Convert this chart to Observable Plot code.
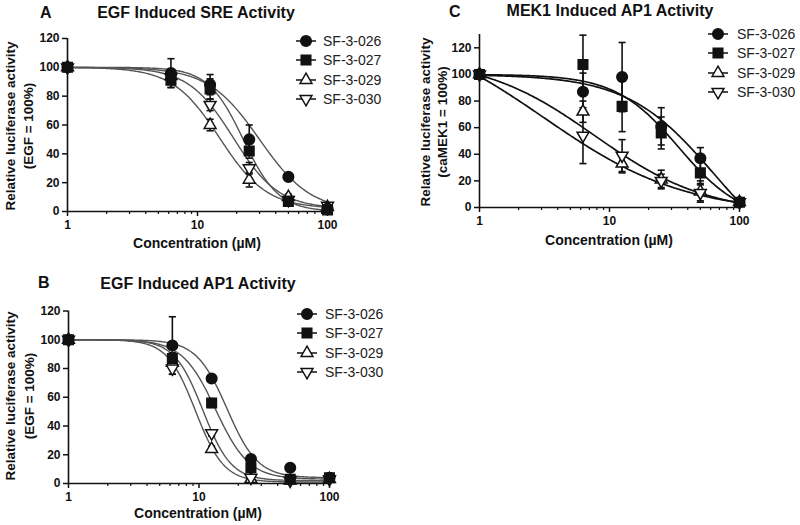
<!DOCTYPE html>
<html><head><meta charset="utf-8">
<script src="https://cdn.jsdelivr.net/npm/d3@7"></script>
<script src="https://cdn.jsdelivr.net/npm/@observablehq/plot@0.6"></script>
<style>
body{margin:0;background:#fff;}
#fig{position:relative;width:800px;height:525px;overflow:hidden;}
#fig svg{position:absolute;overflow:visible;}
</style></head><body><div id="fig"></div>
<script>
const FONT = 'Arial, "Liberation Sans", Helvetica, sans-serif';
const series = ["SF-3-026", "SF-3-027", "SF-3-029", "SF-3-030"];
const conc = [1, 6.25, 12.5, 25, 50, 100];
const xMajorTicks = [1, 10, 100];
const xMinorTicks = [2, 3, 4, 5, 6, 7, 8, 9, 20, 30, 40, 50, 60, 70, 80, 90];
const yTicks = [0, 20, 40, 60, 80, 100, 120];

// Panel A: EGF Induced SRE Activity
const A_026 = [100, 96, 88, 50, 24, 2],   A_026_err = [0, 10, 7, 10, 2, 1];
const A_027 = [100, 91, 85, 42, 7, 1],    A_027_err = [0, 5, 7, 5, 2, 1];
const A_029 = [100, 94, 60, 22, 10, 3],   A_029_err = [0, 3, 4, 5, 2, 1];
const A_030 = [100, 93, 74, 30, 8, 4],    A_030_err = [0, 3, 4, 4, 2, 1];
const A_ic50 = [30, 22.5, 14.8, 18.9], A_hill = [2.2, 3.2, 2.4, 2.5];
const A_top = [100, 100, 100, 100],    A_bottom = [0, 0, 2, 2];

// Panel B: EGF Induced AP1 Activity
const B_026 = [100, 96, 73, 17, 11, 4],   B_026_err = [0, 20, 2, 2, 1, 1];
const B_027 = [100, 87, 56, 11, 3, 4],    B_027_err = [0, 4, 3, 2, 1, 1];
const B_029 = [100, 84, 24, 3, 2, 3],     B_029_err = [0, 3, 2, 1, 1, 1];
const B_030 = [100, 80, 35, 4, 2, 3],     B_030_err = [0, 4, 2, 1, 1, 1];
const B_ic50 = [16.4, 13.4, 9.4, 10.7], B_hill = [3.7, 3.4, 4.0, 4.0];
const B_top = [100, 100, 100, 100],     B_bottom = [4, 3, 1, 2];

// Panel C: MEK1 Induced AP1 Activity
const C_026 = [100, 87, 98, 61, 37, 4],    C_026_err = [0, 14, 26, 14, 8, 2];
const C_027 = [100, 107.5, 76, 56, 26, 4], C_027_err = [0, 22, 19, 12, 8, 2];
const C_029 = [100, 72, 33, 21, 12, 4],    C_029_err = [0, 8, 7, 7, 8, 2];
const C_030 = [100, 54, 39, 20, 11, 4],    C_030_err = [0, 21, 12, 5, 6, 2];
const C_ic50 = [64, 34.2, 7.7, 3.13], C_hill = [1.3, 1.78, 1.0, 0.8];
const C_top = [100, 100, 113, 140],   C_bottom = [-50, -10, -5, -5];

const triangleUp = {draw(ctx, size) {
  const y = -Math.sqrt(size / (Math.sqrt(3) * 3));
  ctx.moveTo(0, y * 2); ctx.lineTo(-Math.sqrt(3) * y, -y); ctx.lineTo(Math.sqrt(3) * y, -y); ctx.closePath();
}};
const triangleDown = {draw(ctx, size) {
  const y = -Math.sqrt(size / (Math.sqrt(3) * 3));
  ctx.moveTo(0, -y * 2); ctx.lineTo(-Math.sqrt(3) * y, y); ctx.lineTo(Math.sqrt(3) * y, y); ctx.closePath();
}};
const capSym = {draw(ctx, size) { const w = Math.sqrt(size) / 2; ctx.moveTo(-w, 0); ctx.lineTo(w, 0); }};
const symbols = [d3.symbolCircle, d3.symbolSquare, triangleUp, triangleDown];
const symR = [5.3, 5.4, 4.4, 4.4];
const symFill = ["#111", "#111", "#fff", "#fff"];
const drawOrder = [2, 3, 0, 1];

function fourPL(x, top, bottom, ic50, hill) { return bottom + (top - bottom) / (1 + Math.pow(x / ic50, hill)); }

function panel(cfg) {
  const rows = [];
  cfg.means.forEach((m, i) => m.forEach((v, j) => rows.push({s: series[i], i, x: conc[j], y: v, e: cfg.errs[i][j]})));
  const bars = rows.filter(d => d.e > 0);
  const caps = bars.flatMap(d => [{x: d.x, y: d.y + d.e}, {x: d.x, y: d.y - d.e}]);
  const curves = [];
  series.forEach((s, i) => {
    for (let k = 0; k <= 240; k++) {
      const x = Math.pow(10, 2 * k / 240);
      curves.push({s, x, y: fourPL(x, cfg.top[i], cfg.bottom[i], cfg.ic50[i], cfg.hill[i])});
    }
  });
  const ink = "#111";
  const marks = [
    Plot.line(curves, {x: "x", y: "y", z: "s", stroke: cfg.curveColor, strokeWidth: cfg.curveWidth}),
    Plot.ruleX(bars, {x: "x", y1: d => d.y - d.e, y2: d => d.y + d.e, stroke: ink, strokeWidth: 1.6}),
    Plot.dot(caps, {x: "x", y: "y", symbol: capSym, r: 4, stroke: ink, strokeWidth: 1.6, fill: "none"}),
    ...drawOrder.map(i => Plot.dot(rows.filter(d => d.i === i), {
      x: "x", y: "y", symbol: symbols[i], r: symR[i], fill: symFill[i], stroke: ink, strokeWidth: 1.5
    })),
    Plot.ruleX([1], {stroke: ink, strokeWidth: 1.6}),
    Plot.ruleY([0], {stroke: ink, strokeWidth: 1.6}),
    Plot.axisY({ticks: yTicks, tickSize: 5, tickPadding: 3, label: null, strokeWidth: 1.5}),
    Plot.axisX({ticks: xMajorTicks, tickSize: 5, tickPadding: 4, label: null, strokeWidth: 1.5, tickFormat: d => String(d)}),
    Plot.axisX({ticks: xMinorTicks, tickSize: 3, label: null, strokeWidth: 1.2, tickFormat: () => ""})
  ];
  const svg = Plot.plot({
    width: cfg.width, height: cfg.height,
    marginLeft: cfg.ml, marginRight: cfg.mr, marginTop: cfg.mt, marginBottom: cfg.mb,
    x: {type: "log", domain: [1, 100]},
    y: {domain: cfg.yDomain},
    style: {fontFamily: FONT, fontSize: "12px", fontWeight: "bold", color: "#111", background: "transparent", overflow: "visible"},
    marks
  });
  svg.style.left = cfg.left + "px";
  svg.style.top = cfg.top0 + "px";
  document.getElementById("fig").appendChild(svg);
  const g = d3.select(svg).append("g").attr("font-family", FONT).attr("fill", "#111");
  g.append("text").attr("x", cfg.letter[0]).attr("y", cfg.letter[1]).attr("text-anchor", "start").attr("font-size", 16).attr("font-weight", "bold").text(cfg.letterText);
  g.append("text").attr("x", cfg.title[0]).attr("y", cfg.title[1]).attr("text-anchor", "middle").attr("font-size", 16).attr("font-weight", "bold").text(cfg.titleText);
  g.append("text").attr("x", cfg.xlab[0]).attr("y", cfg.xlab[1]).attr("text-anchor", "middle").attr("font-size", 14).attr("font-weight", "bold").text("Concentration (µM)");
  cfg.ylabText.forEach((t, k) => {
    g.append("text").attr("transform", `translate(${cfg.ylabX[k]},${cfg.ylabY}) rotate(-90)`).attr("text-anchor", "middle")
      .attr("dominant-baseline", "central").attr("font-size", 13.5).attr("font-weight", "bold").text(t);
  });
  const lg = g.append("g");
  series.forEach((s, i) => {
    const y = cfg.legY[i], mx = cfg.legX;
    lg.append("line").attr("x1", mx - 10).attr("x2", mx + 10).attr("y1", y).attr("y2", y).attr("stroke", ink).attr("stroke-width", 1.5);
    lg.append("path").attr("transform", `translate(${mx},${y})`).attr("d", d3.symbol(symbols[i], symR[i] * symR[i] * Math.PI)())
      .attr("fill", symFill[i]).attr("stroke", ink).attr("stroke-width", 1.5);
    lg.append("text").attr("x", cfg.legTextX).attr("y", y).attr("text-anchor", "start").attr("dominant-baseline", "central").attr("font-size", 14)
      .attr("font-weight", "normal").attr("fill", "#222").text(s);
  });
}

panel({
  left: 0, top0: 0, width: 400, height: 260, ml: 67, mr: 73, mt: 38, mb: 49, yDomain: [0, 120],
  means: [A_026, A_027, A_029, A_030], errs: [A_026_err, A_027_err, A_029_err, A_030_err],
  ic50: A_ic50, hill: A_hill, top: A_top, bottom: A_bottom, curveColor: "#555", curveWidth: 1.4,
  letterText: "A", letter: [40, 18], titleText: "EGF Induced SRE Activity", title: [196, 18],
  xlab: [197, 248], ylabText: ["Relative luciferase activity", "(EGF = 100%)"], ylabX: [10, 28], ylabY: 126,
  legX: 306, legTextX: 323, legY: [41, 60, 80, 99]
});
panel({
  left: 0, top0: 265, width: 400, height: 260, ml: 68, mr: 71, mt: 45.5, mb: 42, yDomain: [0, 120],
  means: [B_026, B_027, B_029, B_030], errs: [B_026_err, B_027_err, B_029_err, B_030_err],
  ic50: B_ic50, hill: B_hill, top: B_top, bottom: B_bottom, curveColor: "#555", curveWidth: 1.4,
  letterText: "B", letter: [38, 23], titleText: "EGF Induced AP1 Activity", title: [198, 24],
  xlab: [198, 253], ylabText: ["Relative luciferase activity", "(EGF = 100%)"], ylabX: [10, 29], ylabY: 131,
  legX: 307, legTextX: 325, legY: [49, 68, 88, 107]
});
panel({
  left: 400, top0: 0, width: 400, height: 260, ml: 79, mr: 61, mt: 34, mb: 53, yDomain: [0, 130],
  means: [C_026, C_027, C_029, C_030], errs: [C_026_err, C_027_err, C_029_err, C_030_err],
  ic50: C_ic50, hill: C_hill, top: C_top, bottom: C_bottom, curveColor: "#111", curveWidth: 1.7,
  letterText: "C", letter: [49, 17], titleText: "MEK1 Induced AP1 Activity", title: [210, 16],
  xlab: [209, 245], ylabText: ["Relative luciferase activity", "(caMEK1 = 100%)"], ylabX: [25, 42], ylabY: 122,
  legX: 318, legTextX: 337, legY: [34, 53, 73, 92]
});
</script></body></html>
